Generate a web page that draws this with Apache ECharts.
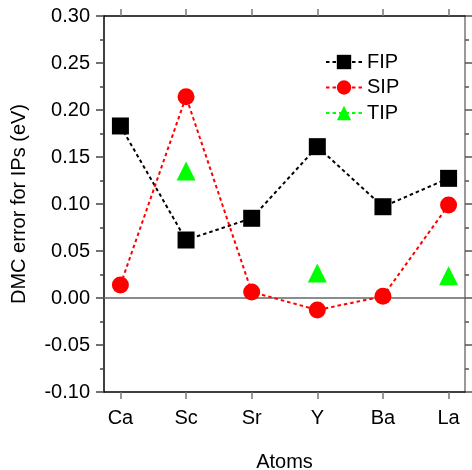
<!DOCTYPE html>
<html><head><meta charset="utf-8">
<script src="https://cdn.jsdelivr.net/npm/echarts@6/dist/echarts.min.js"></script>
<style>html,body{margin:0;padding:0;background:#fff}#c{width:472px;height:470px}</style>
</head><body><div id="c"></div>
<script>
const categories = ['Ca', 'Sc', 'Sr', 'Y', 'Ba', 'La'];
const fip = [0.183, 0.0617, 0.0848, 0.161, 0.0971, 0.1273];
const sip = [0.0138, 0.2141, 0.0065, -0.0128, 0.0018, 0.0989];
const tip = [null, 0.135, null, 0.0266, null, 0.0236];

const idx = categories.map((_, i) => i);
const font = 'Liberation Sans, Arial, sans-serif';
function pts(arr) { return arr.map((v, i) => [i, v]); }

const chart = echarts.init(document.getElementById('c'), null, {renderer: 'canvas'});
function mkSeries(name, data, color, symbol, size) {
  return {
    name, type: 'line', data: pts(data), symbol, symbolSize: size,
    connectNulls: false, z: 3,
    itemStyle: {color: color},
    lineStyle: {color: color, width: 2, type: [3.5, 3]},
    emphasis: {disabled: true}
  };
}
const s1 = mkSeries('FIP', fip, '#000000', 'rect', 17);
s1.markLine = {
  silent: true, symbol: 'none', label: {show: false},
  lineStyle: {color: '#666', width: 1.5, type: 'solid'},
  data: [{yAxis: 0}], z: 1
};
chart.setOption({
  animation: false,
  backgroundColor: '#fff',
  grid: {left: 104, top: 16, right: 7, bottom: 78, outerBoundsMode: 'none', containLabel: false},
  legend: {
    orient: 'vertical', left: 325, top: 52, itemGap: 5.5, padding: 0,
    itemWidth: 36, itemHeight: 18, itemTextGap: 7,
    textStyle: {fontFamily: font, fontSize: 20, color: '#000'},
    data: ['FIP', 'SIP', 'TIP']
  },
  xAxis: [{
    type: 'value', min: -0.25, max: 5.25, position: 'bottom',
    name: 'Atoms', nameLocation: 'middle', nameGap: 60,
    nameTextStyle: {fontFamily: font, fontSize: 20, color: '#000'},
    axisLine: {show: true, onZero: false, lineStyle: {color: '#000', width: 1.5}},
    axisTick: {show: true, customValues: idx, length: 7, lineStyle: {color: '#777', width: 1.5}},
    axisLabel: {customValues: idx, margin: 16, fontFamily: font, fontSize: 20, color: '#000',
      formatter: v => categories[Math.round(v)] || ''},
    splitLine: {show: false}
  }, {
    type: 'value', min: -0.25, max: 5.25, position: 'top',
    axisLine: {show: true, onZero: false, lineStyle: {color: '#000', width: 1.5}},
    axisTick: {show: true, customValues: idx, length: 7, lineStyle: {color: '#777', width: 1.5}},
    axisLabel: {show: false},
    splitLine: {show: false}
  }],
  yAxis: [{
    type: 'value', min: -0.1, max: 0.3, interval: 0.05, position: 'left',
    name: 'DMC error for IPs (eV)', nameLocation: 'middle', nameGap: 75,
    nameTextStyle: {fontFamily: font, fontSize: 20, color: '#000'},
    axisLine: {show: true, onZero: false, lineStyle: {color: '#000', width: 1.5}},
    axisTick: {show: true, length: 8, lineStyle: {color: '#444', width: 1.5}},
    minorTick: {show: true, splitNumber: 2, length: 4, lineStyle: {color: '#444', width: 1.5}},
    axisLabel: {margin: 14, fontFamily: font, fontSize: 20, color: '#000',
      formatter: v => v.toFixed(2)},
    splitLine: {show: false}
  }, {
    type: 'value', min: -0.1, max: 0.3, interval: 0.05, position: 'right',
    axisLine: {show: true, onZero: false, lineStyle: {color: '#777', width: 1.5}},
    axisTick: {show: true, length: 7, lineStyle: {color: '#555', width: 1.5}},
    minorTick: {show: true, splitNumber: 2, length: 4, lineStyle: {color: '#555', width: 1.5}},
    axisLabel: {show: false},
    splitLine: {show: false}
  }],
  series: [
    s1,
    mkSeries('SIP', sip, '#ff0000', 'circle', 17),
    mkSeries('TIP', tip, '#00ff00', 'triangle', 19)
  ]
});
</script></body></html>
